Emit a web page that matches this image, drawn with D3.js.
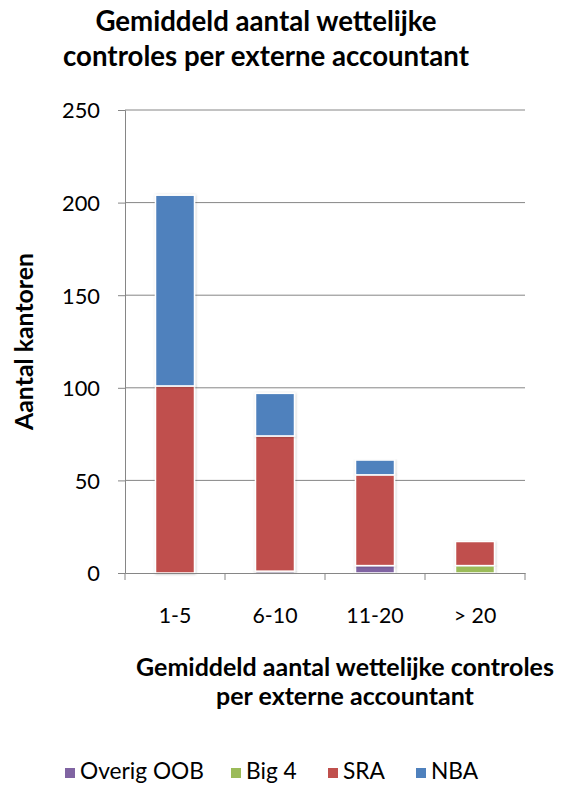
<!DOCTYPE html>
<html><head><meta charset="utf-8">
<script src="https://cdn.jsdelivr.net/npm/d3@7/dist/d3.min.js"></script>
<style>body{margin:0;background:#fff}svg{display:block}</style>
</head><body>
<svg id="c" width="573" height="785"></svg>
<script>
const categories = ["1-5", "6-10", "11-20", "> 20"];
const seriesNames = ["Overig OOB", "Big 4", "SRA", "NBA"];
const overigOOB = [0, 1, 4, 0];
const big4 = [0, 0, 0, 4];
const sra = [101, 73, 49, 13];
const nba = [103, 23, 8, 0];
const yTicks = [0, 50, 100, 150, 200, 250];
const colors = ["#8064A2", "#9BBB59", "#C0504D", "#4F81BD"];
const titleLines = ["Gemiddeld aantal wettelijke", "controles per externe accountant"];
const xTitleLines = ["Gemiddeld aantal wettelijke controles", "per externe accountant"];
const yTitle = "Aantal kantoren";

const rows = categories.map((c, i) => ({cat: c, "Overig OOB": overigOOB[i], "Big 4": big4[i], "SRA": sra[i], "NBA": nba[i]}));
const stacked = d3.stack().keys(seriesNames)(rows);

const svg = d3.select("#c");
const font = "Lato, Carlito, Calibri, sans-serif";
const pL = 125, pR = 525, pT = 110, pB = 573;
const x = d3.scaleBand().domain(categories).range([pL, pR]).paddingInner(0.61).paddingOuter(0.305);
const y = d3.scaleLinear().domain([0, 250]).range([pB, pT]);

// size helper: font size that gives a text the wanted width
function fitSize(text, weight, target) {
  const t = svg.append("text").attr("font-family", font).attr("font-weight", weight).attr("font-size", 100).text(text);
  const w = t.node().getComputedTextLength();
  t.remove();
  return 100 * target / w;
}
const fsTitle = fitSize(titleLines[1], "bold", 406);
const fsXTitle = fitSize(xTitleLines[0], "bold", 418);
const fsYTitle = fitSize(yTitle, "bold", 177);
const fsYTick = fitSize("150", "normal", 38);
const fsXTick = fitSize("6-10", "normal", 45);
const fsLeg = fitSize("Overig OOB", "normal", 124);

const defs = svg.append("defs");
const f = defs.append("filter").attr("id", "sh").attr("x", "-20%").attr("y", "-5%").attr("width", "140%").attr("height", "110%");
f.append("feDropShadow").attr("dx", 0.5).attr("dy", 0.5).attr("stdDeviation", 1.2).attr("flood-color", "#000").attr("flood-opacity", 0.25);
defs.append("clipPath").attr("id", "clip").append("rect").attr("x", 0).attr("y", 0).attr("width", 555).attr("height", 785);

const root = svg.append("g").attr("clip-path", "url(#clip)");

// gridlines
root.append("g").selectAll("line").data(yTicks.filter(d => d > 0)).join("line")
  .attr("x1", pL).attr("x2", pR).attr("y1", d => y(d)).attr("y2", d => y(d))
  .attr("stroke", "#868686").attr("stroke-width", 1);

// y axis
const ya = root.append("g").attr("transform", `translate(${pL},0)`)
  .call(d3.axisLeft(y).tickValues(yTicks).tickSize(7).tickPadding(18));
ya.select(".domain").attr("stroke", "#868686");
ya.selectAll(".tick line").attr("stroke", "#868686");
ya.selectAll("text").attr("font-family", font).attr("font-size", fsYTick).attr("fill", "#000").attr("dy", "0.36em");

// bars
root.append("g").selectAll("g").data(stacked).join("g").attr("fill", (d, i) => colors[i])
  .selectAll("rect").data(d => d.filter(s => s[1] - s[0] > 0)).join("rect")
  .attr("x", d => x(d.data.cat)).attr("width", x.bandwidth())
  .attr("y", d => y(d[1])).attr("height", d => y(d[0]) - y(d[1]))
  .attr("stroke", "#fff").attr("stroke-width", 1.5).attr("filter", "url(#sh)");

// x axis
const xa = root.append("g").attr("transform", `translate(0,${pB})`)
  .call(d3.axisBottom(x).tickSize(0).tickPadding(0));
xa.select(".domain").attr("stroke", "#868686");
xa.selectAll("text").attr("font-family", font).attr("font-size", fsXTick).attr("fill", "#000").attr("dy", null).attr("y", 50);
const bounds = categories.map(c => x(c) - x.step() * x.paddingInner() / 2).concat([pR]);
root.append("g").selectAll("line").data(bounds).join("line")
  .attr("x1", d => d).attr("x2", d => d).attr("y1", pB).attr("y2", pB + 7)
  .attr("stroke", "#868686");

// title
root.append("text").attr("font-family", font).attr("font-weight", "bold").attr("font-size", fsTitle)
  .attr("text-anchor", "middle").selectAll("tspan").data(titleLines).join("tspan")
  .attr("x", 266).attr("y", (d, i) => 31 + i * 35).text(d => d);

// x title
root.append("text").attr("font-family", font).attr("font-weight", "bold").attr("font-size", fsXTitle)
  .attr("text-anchor", "middle").selectAll("tspan").data(xTitleLines).join("tspan")
  .attr("x", 345).attr("y", (d, i) => 676 + i * 29).text(d => d);

// y title
root.append("text").attr("font-family", font).attr("font-weight", "bold").attr("font-size", fsYTitle)
  .attr("text-anchor", "middle").attr("transform", "translate(33,341.5) rotate(-90)").text(yTitle);

// legend
const legX = [65, 231, 328, 416];
const lg = root.append("g").selectAll("g").data(seriesNames).join("g")
  .attr("transform", (d, i) => `translate(${legX[i]},${779})`);
lg.append("rect").attr("x", 0).attr("y", -11).attr("width", 10).attr("height", 10).attr("fill", (d, i) => colors[i]);
lg.append("text").attr("x", 15).attr("y", 0).attr("font-family", font).attr("font-size", fsLeg).text(d => d);
</script>
</body></html>
